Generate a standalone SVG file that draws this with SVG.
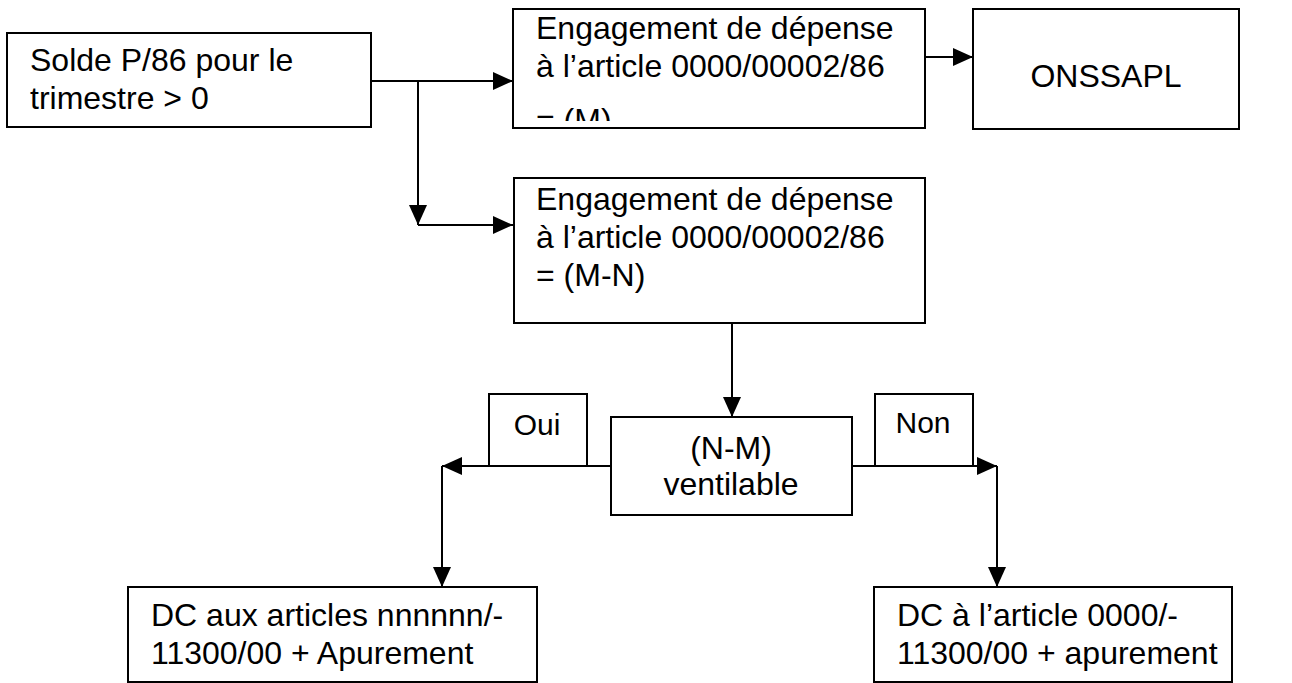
<svg xmlns="http://www.w3.org/2000/svg" width="1292" height="683" viewBox="0 0 1292 683">
<style>
.box{fill:#fff;stroke:#000;stroke-width:2}
.t{font-family:"Liberation Sans",Arial,sans-serif;font-size:32px;fill:#000}
.s{font-family:"Liberation Sans",Arial,sans-serif;font-size:30px;fill:#000}
.c{text-anchor:middle}
.ln{fill:none;stroke:#000;stroke-width:2;marker-end:url(#ah)}
</style>
<defs>
<marker id="ah" viewBox="0 0 20 18" refX="20" refY="9" markerWidth="20" markerHeight="18" markerUnits="userSpaceOnUse" orient="auto">
<path d="M0,0 L20,9 L0,18 z" fill="#000"/>
</marker>
<clipPath id="clip2"><rect x="513" y="9" width="412" height="112"/></clipPath>
</defs>
<rect width="1292" height="683" fill="#fff"/>
<g id="connectors">
<path class="ln" d="M371,81 H513"/>
<path class="ln" d="M418,81 V225"/>
<path class="ln" d="M418,225 H513"/>
<path class="ln" d="M925,57 H973"/>
<path class="ln" d="M732,323 V417"/>
<path class="ln" d="M611,466 H442"/>
<path class="ln" d="M442,466 V587"/>
<path class="ln" d="M852,466 H997"/>
<path class="ln" d="M997,466 V587"/>
</g>
<g id="solde">
<rect class="box" x="7" y="33" width="364" height="94"/>
<text class="t" x="30" y="71">Solde P/86 pour le</text>
<text class="t" x="30" y="109">trimestre &gt; 0</text>
</g>
<g id="engagement-m">
<rect class="box" x="513" y="9" width="412" height="119"/>
<g clip-path="url(#clip2)">
<text class="t" x="536" y="39">Engagement de dépense</text>
<text class="t" x="536" y="77">à l’article 0000/00002/86</text>
<text class="t" x="536" y="131">= (M)</text>
</g>
</g>
<g id="onssapl">
<rect class="box" x="973" y="9" width="266" height="120"/>
<text class="t c" x="1106" y="87">ONSSAPL</text>
</g>
<g id="engagement-mn">
<rect class="box" x="514" y="178" width="411" height="145"/>
<text class="t" x="536" y="210">Engagement de dépense</text>
<text class="t" x="536" y="248">à l’article 0000/00002/86</text>
<text class="t" x="536" y="286">= (M-N)</text>
</g>
<g id="oui">
<rect class="box" x="489" y="394" width="98" height="72"/>
<text class="s c" x="537" y="435">Oui</text>
</g>
<g id="ventilable">
<rect class="box" x="611" y="417" width="241" height="98"/>
<text class="t c" x="731" y="459">(N-M)</text>
<text class="t c" x="731" y="495">ventilable</text>
</g>
<g id="non">
<rect class="box" x="875" y="394" width="98" height="72"/>
<text class="s c" x="923" y="433">Non</text>
</g>
<g id="dc-left">
<rect class="box" x="128" y="587" width="409" height="95"/>
<text class="t" x="151" y="626">DC aux articles nnnnnn/-</text>
<text class="t" x="151" y="664">11300/00 + Apurement</text>
</g>
<g id="dc-right">
<rect class="box" x="874" y="587" width="358" height="95"/>
<text class="t" x="897" y="626">DC à l’article 0000/-</text>
<text class="t" x="897" y="664">11300/00 + apurement</text>
</g>
</svg>
